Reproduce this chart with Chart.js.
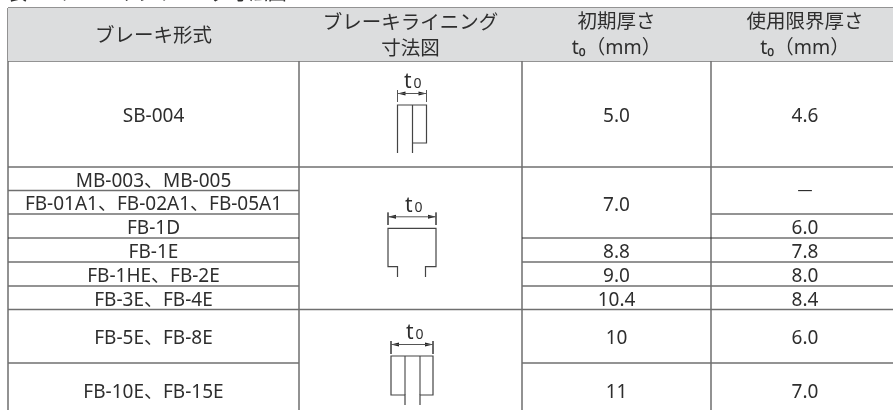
<!DOCTYPE html>
<html lang="ja">
<head>
<meta charset="utf-8">
<title>ブレーキライニング寸法図</title>
<script src="https://cdn.jsdelivr.net/npm/chart.js@4"></script>
<style>
    html, body { margin: 0; padding: 0; background: #fff; overflow: hidden; }
    #wrap { position: relative; width: 893px; height: 410px; }
</style>
</head>
<body>
<div id="wrap"><canvas id="table"></canvas></div>
<script>
// Table contents
const caption = '表6.3 ブレーキライニング寸法図';
const headerNames = ['ブレーキ形式', 'ブレーキライニング', '寸法図', '初期厚さ', '使用限界厚さ'];
const unitLabel = 't₀（mm）';
const brakeTypes = ['SB-004', 'MB-003、MB-005', 'FB-01A1、FB-02A1、FB-05A1', 'FB-1D', 'FB-1E', 'FB-1HE、FB-2E', 'FB-3E、FB-4E', 'FB-5E、FB-8E', 'FB-10E、FB-15E'];
const initialThickness = ['5.0', '7.0', '8.8', '9.0', '10.4', '10', '11'];
const wearLimit = ['4.6', '—', '6.0', '7.8', '8.0', '8.4', '6.0', '7.0'];

// Table grid, in the units of the x and y scales
const colEdges = [8, 299, 522, 711, 899];
const rowEdges = [61, 167, 190.6, 214, 238, 262, 286, 309.5, 363, 416];
const tableTop = 8;
const unitLine = 32;

// Which rows each cell covers [first, last]
const initialSpans = [[0, 0], [1, 3], [4, 4], [5, 5], [6, 6], [7, 7], [8, 8]];
const wearSpans = [[0, 0], [1, 2], [3, 3], [4, 4], [5, 5], [6, 6], [7, 7], [8, 8]];

const RULE = '#6f6f6f';
const DARK = '#2b2b2b';
const TEXT = '#2e2e2e';
const FONT = '"Noto Sans", "Noto Sans CJK JP", sans-serif';

function seg(x1, y1, x2, y2, color = RULE, width = 1.5) {
    return {
        data: [{ x: x1, y: y1 }, { x: x2, y: y2 }],
        showLine: true,
        borderColor: color,
        borderWidth: width,
        pointRadius: 0,
        borderCapStyle: 'butt'
    };
}

function poly(points, color = RULE, width = 1.2) {
    return {
        data: points.map(p => ({ x: p[0], y: p[1] })),
        showLine: true,
        borderColor: color,
        borderWidth: width,
        pointRadius: 0,
        borderJoinStyle: 'miter'
    };
}

function filled(points, color) {
    return {
        data: points.map(p => ({ x: p[0], y: p[1] })),
        showLine: true,
        borderWidth: 0,
        borderColor: color,
        backgroundColor: color,
        fill: 'shape',
        pointRadius: 0
    };
}

// Dimension mark above a diagram: two extension lines and a double arrow
function dimension(left, right, y, top, bottom) {
    return [
        seg(left, top, left, bottom, '#555', 1),
        seg(right, top, right, bottom, '#555', 1),
        seg(left, y, right, y, '#555', 1),
        filled([[left, y], [left + 8, y - 2], [left + 8, y + 2]], '#222'),
        filled([[right, y], [right - 8, y - 2], [right - 8, y + 2]], '#222')
    ];
}

const right = 893;
const [c0, c1, c2, c3] = colEdges;
const r = rowEdges;

const datasets = [
    // Header band
    filled([[c0, tableTop], [right, tableTop], [right, r[0]], [c0, r[0]]], '#dcddde'),
    // Horizontal rules
    seg(c0, tableTop, right, tableTop),
    seg(c2, unitLine, right, unitLine),
    seg(c0, r[0], right, r[0]),
    seg(c0, r[1], right, r[1]),
    seg(c0, r[2], c1, r[2]),
    seg(c0, r[3], c1, r[3]),
    seg(c3, r[3], right, r[3]),
    seg(c0, r[4], c1, r[4], DARK, 1),
    seg(c2, r[4], right, r[4], DARK, 1),
    seg(c0, r[5], c1, r[5]),
    seg(c2, r[5], right, r[5]),
    seg(c0, r[6], c1, r[6]),
    seg(c2, r[6], right, r[6]),
    seg(c0, r[7], right, r[7]),
    seg(c0, r[8], c1, r[8]),
    seg(c2, r[8], right, r[8]),
    // Vertical rules
    seg(c0, tableTop, c0, 410),
    seg(c1, tableTop, c1, 410),
    seg(c2, tableTop, c2, 410),
    seg(c3, tableTop, c3, 410),
    // Diagram 1 (SB-004)
    ...dimension(397.5, 426.5, 93.5, 90, 102),
    poly([[397.5, 153], [397.5, 105], [426.5, 105], [426.5, 143], [412.5, 143]], '#444'),
    poly([[412.5, 105], [412.5, 153]], '#444'),
    // Diagram 2 (MB, FB-01 to FB-4E)
    ...dimension(388, 436, 216.8, 212.5, 225),
    poly([[397.5, 277], [397.5, 266.7], [388, 266.7], [388, 228.3], [436, 228.3], [436, 266.7], [425.5, 266.7], [425.5, 277]], '#444'),
    // Diagram 3 (FB-5E to FB-15E)
    ...dimension(391, 433, 344.5, 341, 354),
    poly([[405, 405], [405, 395], [391, 395], [391, 356], [433, 356], [433, 395], [420, 395], [420, 405]], '#444'),
    poly([[405, 356], [405, 395]], '#777', 1.5),
    poly([[420, 356], [420, 395]], '#777', 1.5)
];

// Draws every cell text through the chart's scales
const tableText = {
    id: 'tableText',
    afterDatasetsDraw(chart) {
        const { ctx, scales: { x, y } } = chart;
        const put = (str, px, py, size = 19, align = 'center') => {
            ctx.font = `${size}px ${FONT}`;
            ctx.textAlign = align;
            ctx.fillText(str, x.getPixelForValue(px), y.getPixelForValue(py));
        };
        const colMid = i => (colEdges[i] + colEdges[i + 1]) / 2;
        const spanBase = s => (rowEdges[s[0]] + rowEdges[s[1] + 1]) / 2 + 8;

        ctx.save();
        ctx.fillStyle = TEXT;
        ctx.textBaseline = 'alphabetic';

        put(caption, 8, 0, 19, 'left');
        put(headerNames[0], colMid(0), 41.5, 19.5);
        put(headerNames[1], colMid(1), 28.5, 19.5);
        put(headerNames[2], colMid(1), 54.5, 19.5);
        put(headerNames[3], colMid(2), 28, 19.5);
        put(headerNames[4], colMid(3), 28, 19.5);
        put(unitLabel, colMid(2), 54, 19.5);
        put(unitLabel, colMid(3), 54, 19.5);

        brakeTypes.forEach((name, i) => put(name, colMid(0), spanBase([i, i])));
        initialThickness.forEach((v, i) => put(v, colMid(2), spanBase(initialSpans[i])));
        wearLimit.forEach((v, i) => {
            if (v === '—') put(v, colMid(3), 195, 15);
            else put(v, colMid(3), spanBase(wearSpans[i]));
        });

        // t0 labels over the diagrams
        [[404, 88], [405, 211.7], [406, 339]].forEach(([px, py]) => {
            put('t', px, py, 21, 'left');
            put('0', px + 9.5, py, 14, 'left');
        });
        ctx.restore();
    }
};

new Chart(document.getElementById('table'), {
    type: 'scatter',
    data: { datasets },
    options: {
        responsive: true,
        maintainAspectRatio: false,
        animation: false,
        layout: { padding: 0 },
        plugins: { legend: { display: false }, tooltip: { enabled: false } },
        elements: { line: { tension: 0 } },
        scales: {
            x: { type: 'linear', display: false, min: 0, max: 893 },
            y: { type: 'linear', display: false, min: 0, max: 410, reverse: true }
        }
    },
    plugins: [tableText]
});
</script>
</body>
</html>
